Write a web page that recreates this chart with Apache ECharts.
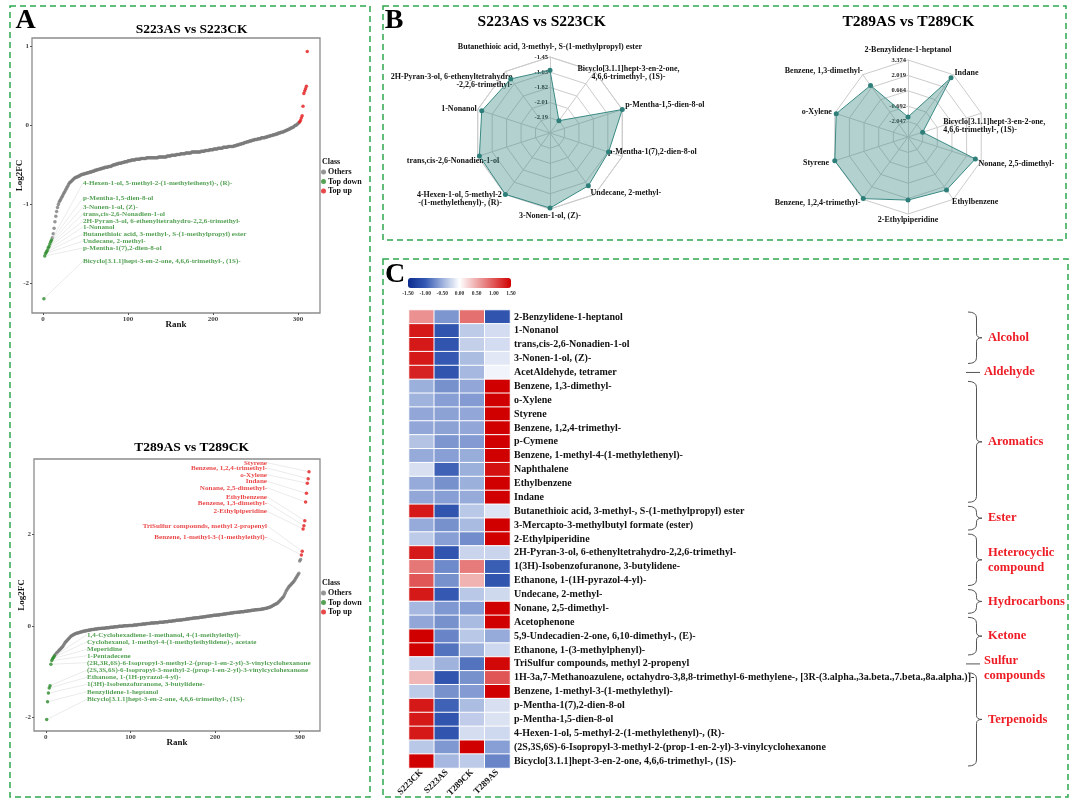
<!DOCTYPE html>
<html><head><meta charset="utf-8">
<script src="https://cdn.jsdelivr.net/npm/echarts@6.0.0/dist/echarts.min.js"></script>
<style>html,body{margin:0;padding:0;background:#fff}#main{width:1080px;height:807px}</style>
</head><body><div id="main"></div>
<script>
// ---------------- DATA ----------------
// Panel A (top): S223AS vs S223CK, ranked Log2FC
const s223DownNames = ['4-Hexen-1-ol, 5-methyl-2-(1-methylethenyl)-, (R)-','p-Mentha-1,5-dien-8-ol','3-Nonen-1-ol, (Z)-','trans,cis-2,6-Nonadien-1-ol','2H-Pyran-3-ol, 6-ethenyltetrahydro-2,2,6-trimethyl-','1-Nonanol','Butanethioic acid, 3-methyl-, S-(1-methylpropyl) ester','Undecane, 2-methyl-','p-Mentha-1(7),2-dien-8-ol','Bicyclo[3.1.1]hept-3-en-2-one, 4,6,6-trimethyl-, (1S)-'];
const s223DownValues = [-1.45,-1.47,-1.50,-1.53,-1.55,-1.58,-1.60,-1.62,-1.65,-2.19];
const s223OthersValues = [
-1.42,-1.37,-1.30,-1.22,-1.15,-1.09,-1.04,-1.00,-0.97,-0.95,
-0.93,-0.91,-0.89,-0.87,-0.85,-0.83,-0.81,-0.79,-0.77,-0.75,
-0.73,-0.72,-0.71,-0.70,-0.69,-0.68,-0.67,-0.66,-0.66,-0.65,
-0.65,-0.64,-0.64,-0.63,-0.63,-0.62,-0.62,-0.62,-0.61,-0.61,
-0.61,-0.60,-0.60,-0.60,-0.59,-0.59,-0.59,-0.58,-0.58,-0.58,
-0.57,-0.57,-0.57,-0.56,-0.56,-0.56,-0.55,-0.55,-0.55,-0.54,
-0.54,-0.54,-0.53,-0.53,-0.53,-0.53,-0.52,-0.52,-0.52,-0.52,
-0.51,-0.51,-0.50,-0.50,-0.50,-0.49,-0.49,-0.49,-0.48,-0.48,
-0.48,-0.48,-0.47,-0.47,-0.47,-0.46,-0.46,-0.46,-0.46,-0.45,
-0.45,-0.45,-0.45,-0.44,-0.44,-0.44,-0.44,-0.44,-0.43,-0.43,
-0.43,-0.43,-0.43,-0.43,-0.42,-0.42,-0.42,-0.42,-0.42,-0.42,
-0.42,-0.41,-0.41,-0.41,-0.41,-0.41,-0.41,-0.41,-0.41,-0.41,
-0.41,-0.41,-0.41,-0.41,-0.41,-0.40,-0.40,-0.40,-0.40,-0.40,
-0.40,-0.40,-0.40,-0.40,-0.40,-0.39,-0.39,-0.39,-0.39,-0.39,
-0.38,-0.38,-0.38,-0.38,-0.38,-0.38,-0.37,-0.37,-0.37,-0.37,
-0.37,-0.36,-0.36,-0.36,-0.36,-0.36,-0.36,-0.35,-0.35,-0.35,
-0.35,-0.35,-0.35,-0.35,-0.34,-0.34,-0.34,-0.34,-0.34,-0.34,
-0.34,-0.34,-0.34,-0.34,-0.34,-0.33,-0.33,-0.33,-0.33,-0.33,
-0.32,-0.32,-0.32,-0.32,-0.32,-0.31,-0.31,-0.31,-0.31,-0.31,
-0.30,-0.30,-0.30,-0.30,-0.30,-0.29,-0.29,-0.29,-0.29,-0.29,
-0.29,-0.28,-0.28,-0.28,-0.28,-0.28,-0.28,-0.27,-0.27,-0.27,
-0.27,-0.27,-0.27,-0.27,-0.26,-0.26,-0.26,-0.25,-0.25,-0.25,
-0.24,-0.24,-0.24,-0.23,-0.23,-0.23,-0.22,-0.22,-0.22,-0.21,
-0.21,-0.21,-0.20,-0.20,-0.20,-0.19,-0.19,-0.19,-0.18,-0.18,
-0.18,-0.18,-0.17,-0.17,-0.17,-0.17,-0.16,-0.16,-0.16,-0.16,
-0.16,-0.15,-0.15,-0.15,-0.14,-0.14,-0.14,-0.13,-0.13,-0.13,
-0.12,-0.12,-0.12,-0.11,-0.11,-0.11,-0.10,-0.10,-0.10,-0.09,
-0.09,-0.09,-0.08,-0.08,-0.07,-0.07,-0.06,-0.06,-0.05,-0.05,
-0.04,-0.04,-0.03,-0.03,-0.02,-0.01,0.00,0.00,0.01,0.02,0.03];
const s223UpValues = [0.04,0.06,0.09,0.12,0.24,0.40,0.43,0.46,0.49,0.93];

// Panel A (bottom): T289AS vs T289CK
const t289DownNames = ['1,4-Cyclohexadiene-1-methanol, 4-(1-methylethyl)-','Cyclohexanol, 1-methyl-4-(1-methylethylidene)-, acetate','Meperidine','1-Pentadecene','(2R,3R,6S)-6-Isopropyl-3-methyl-2-(prop-1-en-2-yl)-3-vinylcyclohexanone','(2S,3S,6S)-6-Isopropyl-3-methyl-2-(prop-1-en-2-yl)-3-vinylcyclohexanone','Ethanone, 1-(1H-pyrazol-4-yl)-','1(3H)-Isobenzofuranone, 3-butylidene-','Benzylidene-1-heptanol','Bicyclo[3.1.1]hept-3-en-2-one, 4,6,6-trimethyl-, (1S)-'];
const t289DownValues = [-0.66,-0.69,-0.72,-0.76,-0.84,-1.31,-1.36,-1.47,-1.66,-2.05];
const t289UpNames = ['Styrene','Benzene, 1,2,4-trimethyl-','o-Xylene','Indane','Nonane, 2,5-dimethyl-','Ethylbenzene','Benzene, 1,3-dimethyl-','2-Ethylpiperidine','TriSulfur compounds, methyl 2-propenyl','Benzene, 1-methyl-3-(1-methylethyl)-'];
const t289UpValues = [3.37,3.22,3.12,2.90,2.71,2.30,2.19,2.12,1.63,1.55];
const t289OthersValues = [
-0.64,-0.61,-0.59,-0.57,-0.55,-0.53,-0.51,-0.49,-0.47,-0.45,
-0.42,-0.39,-0.36,-0.34,-0.32,-0.30,-0.28,-0.26,-0.24,-0.22,
-0.21,-0.20,-0.19,-0.18,-0.17,-0.16,-0.16,-0.15,-0.15,-0.14,
-0.14,-0.13,-0.13,-0.12,-0.12,-0.11,-0.11,-0.10,-0.10,-0.10,
-0.09,-0.09,-0.09,-0.08,-0.08,-0.08,-0.08,-0.07,-0.07,-0.07,
-0.07,-0.06,-0.06,-0.06,-0.06,-0.05,-0.05,-0.05,-0.05,-0.05,
-0.04,-0.04,-0.04,-0.04,-0.04,-0.03,-0.03,-0.03,-0.03,-0.03,
-0.02,-0.02,-0.02,-0.02,-0.02,-0.01,-0.01,-0.01,-0.01,-0.01,
-0.01,0.00,0.00,0.00,0.00,0.00,0.00,0.01,0.01,0.01,
0.01,0.01,0.01,0.02,0.02,0.02,0.02,0.02,0.03,0.03,
0.03,0.03,0.03,0.04,0.04,0.04,0.04,0.04,0.05,0.05,
0.05,0.05,0.05,0.06,0.06,0.06,0.06,0.06,0.07,0.07,
0.07,0.07,0.07,0.08,0.08,0.08,0.08,0.08,0.08,0.09,
0.09,0.09,0.09,0.09,0.10,0.10,0.10,0.10,0.10,0.11,
0.11,0.11,0.11,0.12,0.12,0.12,0.12,0.13,0.13,0.13,
0.13,0.14,0.14,0.14,0.14,0.15,0.15,0.15,0.15,0.16,
0.16,0.16,0.16,0.17,0.17,0.17,0.17,0.18,0.18,0.18,
0.18,0.19,0.19,0.19,0.19,0.20,0.20,0.20,0.20,0.21,
0.21,0.21,0.21,0.22,0.22,0.22,0.22,0.23,0.23,0.23,
0.23,0.24,0.24,0.24,0.24,0.25,0.25,0.25,0.25,0.26,
0.26,0.26,0.26,0.27,0.27,0.27,0.27,0.28,0.28,0.28,
0.28,0.29,0.29,0.29,0.29,0.30,0.30,0.30,0.30,0.31,
0.31,0.31,0.31,0.31,0.32,0.32,0.32,0.32,0.33,0.33,
0.33,0.33,0.34,0.34,0.34,0.34,0.35,0.35,0.35,0.35,
0.36,0.36,0.36,0.36,0.37,0.37,0.37,0.38,0.38,0.38,
0.39,0.39,0.40,0.40,0.41,0.42,0.43,0.44,0.45,0.46,
0.47,0.48,0.49,0.50,0.52,0.54,0.56,0.58,0.60,0.62,
0.64,0.68,0.72,0.76,0.79,0.82,0.85,0.87,0.89,0.91,
0.93,0.95,0.97,1.00,1.03,1.06,1.09,1.12,1.15,1.42,1.45];

// Panel B radars (clockwise from top)
const radarS223Names = ['Butanethioic acid, 3-methyl-, S-(1-methylpropyl) ester','Bicyclo[3.1.1]hept-3-en-2-one,\n4,6,6-trimethyl-, (1S)-','p-Mentha-1,5-dien-8-ol','p-Mentha-1(7),2-dien-8-ol','Undecane, 2-methyl-','3-Nonen-1-ol, (Z)-','4-Hexen-1-ol, 5-methyl-2\n-(1-methylethenyl)-, (R)-','trans,cis-2,6-Nonadien-1-ol','1-Nonanol','2H-Pyran-3-ol, 6-ethenyltetrahydro\n-2,2,6-trimethyl-'];
const radarS223Values = [-1.61,-2.1913,-1.4484,-1.625,-1.58,-1.46,-1.45,-1.47,-1.50,-1.56];
const radarS223Range = [-2.3770,-1.4484];
const radarT289Names = ['2-Benzylidene-1-heptanol','Indane','Bicyclo[3.1.1]hept-3-en-2-one,\n4,6,6-trimethyl-, (1S)-','Nonane, 2,5-dimethyl-','Ethylbenzene','2-Ethylpiperidine','Benzene, 1,2,4-trimethyl-','Styrene','o-Xylene','Benzene, 1,3-dimethyl-'];
const radarT289Values = [-1.64,3.04,-2.0468,2.83,2.36,2.15,3.30,3.3742,3.24,2.21];
const radarT289Range = [-3.40205,3.3742];

// Panel C heatmap (row z-scores)
const heatCols = ['S223CK','S223AS','T289CK','T289AS'];
const heatRows = ['2-Benzylidene-1-heptanol','1-Nonanol','trans,cis-2,6-Nonadien-1-ol','3-Nonen-1-ol, (Z)-','AcetAldehyde, tetramer','Benzene, 1,3-dimethyl-','o-Xylene','Styrene','Benzene, 1,2,4-trimethyl-','p-Cymene','Benzene, 1-methyl-4-(1-methylethenyl)-','Naphthalene','Ethylbenzene','Indane','Butanethioic acid, 3-methyl-, S-(1-methylpropyl) ester','3-Mercapto-3-methylbutyl formate (ester)','2-Ethylpiperidine','2H-Pyran-3-ol, 6-ethenyltetrahydro-2,2,6-trimethyl-','1(3H)-Isobenzofuranone, 3-butylidene-','Ethanone, 1-(1H-pyrazol-4-yl)-','Undecane, 2-methyl-','Nonane, 2,5-dimethyl-','Acetophenone','5,9-Undecadien-2-one, 6,10-dimethyl-, (E)-','Ethanone, 1-(3-methylphenyl)-','TriSulfur compounds, methyl 2-propenyl','1H-3a,7-Methanoazulene, octahydro-3,8,8-trimethyl-6-methylene-, [3R-(3.alpha.,3a.beta.,7.beta.,8a.alpha.)]-','Benzene, 1-methyl-3-(1-methylethyl)-','p-Mentha-1(7),2-dien-8-ol','p-Mentha-1,5-dien-8-ol','4-Hexen-1-ol, 5-methyl-2-(1-methylethenyl)-, (R)-','(2S,3S,6S)-6-Isopropyl-3-methyl-2-(prop-1-en-2-yl)-3-vinylcyclohexanone','Bicyclo[3.1.1]hept-3-en-2-one, 4,6,6-trimethyl-, (1S)-'];
const heatValues = [
[0.65,-0.65,0.84,-1.05],[1.35,-1.05,-0.33,-0.22],[1.35,-1.05,-0.30,-0.22],[1.35,-1.00,-0.42,-0.15],[1.30,-1.05,-0.45,-0.07],
[-0.50,-0.68,-0.55,1.50],[-0.48,-0.60,-0.62,1.50],[-0.55,-0.58,-0.55,1.50],[-0.55,-0.58,-0.55,1.50],[-0.38,-0.65,-0.62,1.50],
[-0.53,-0.60,-0.52,1.50],[-0.20,-0.95,-0.50,1.40],[-0.53,-0.68,-0.50,1.50],[-0.55,-0.60,-0.53,1.50],[1.35,-1.05,-0.35,-0.17],
[-0.53,-0.68,-0.43,1.50],[-0.33,-0.60,-0.70,1.50],[1.35,-1.05,-0.27,-0.27],[0.80,-0.72,0.78,-0.97],[1.00,-0.68,0.45,-1.05],
[1.35,-1.00,-0.35,-0.24],[-0.45,-0.64,-0.60,1.50],[-0.55,-0.68,-0.43,1.50],[1.50,-0.75,-0.35,-0.53],[1.50,-0.85,-0.48,-0.25],
[-0.27,-0.48,-0.85,1.45],[0.43,-1.05,-0.68,1.00],[-0.33,-0.68,-0.62,1.50],[1.35,-0.95,-0.42,-0.20],[1.35,-1.05,-0.32,-0.18],
[1.35,-1.05,-0.21,-0.25],[-0.35,-0.64,1.50,-0.60],[1.50,-0.45,-0.33,-0.75]];
const groupLabels = ['Alcohol','Aldehyde','Aromatics','Ester','Heterocyclic\ncompound','Hydrocarbons','Ketone','Sulfur\ncompounds','Terpenoids'];
const groupStart = [0,4,5,14,16,20,22,25,26];
const groupEnd   = [3,4,13,15,19,21,24,25,32];

// ---------------- LAYOUT / STYLE ----------------
const F = '"Liberation Serif","Times New Roman",serif';
const C_GRAY = '#7b7b7b', C_GREEN = '#2b8a2b', C_RED = '#e41a1c';
const LAYOUT = {
  s223DownX: 83, s223DownY: [183,198,207,214,221,227,234,241,248,261],
  t289DownX: 87, t289DownY: [634.7,641.7,649.3,655.7,662.7,670,677.3,684.3,691.7,699.3],
  t289UpX: 267, t289UpY: [462.7,468,474.7,481.3,487.7,496.7,502.7,511.3,525.7,537.3],
  groupLabelDy: [0,-1,0,0,0,0,0,4,0],
  radarS223Name: [
    {gap: 6, align: 'center', verticalAlign: 'bottom'},
    {gap: -2, align: 'center', verticalAlign: 'middle', padding: [0,0,0,70]},
    {gap: 3, align: 'left', verticalAlign: 'bottom'},
    {gap: -15, align: 'left', verticalAlign: 'middle'},
    {gap: -7, align: 'left', verticalAlign: 'top'},
    {gap: 3, align: 'center', verticalAlign: 'top'},
    {gap: 6, align: 'right', verticalAlign: 'middle'},
    {gap: 26, align: 'center', verticalAlign: 'bottom'},
    {gap: 1, align: 'right', verticalAlign: 'middle'},
    {gap: -12, align: 'right', verticalAlign: 'middle'}],
  radarT289Name: [
    {gap: 6, align: 'center', verticalAlign: 'bottom'},
    {gap: 2, align: 'left', verticalAlign: 'middle'},
    {gap: -40, align: 'left', verticalAlign: 'middle'},
    {gap: -3, align: 'left', verticalAlign: 'top'},
    {gap: -2, align: 'left', verticalAlign: 'top'},
    {gap: 2, align: 'center', verticalAlign: 'top'},
    {gap: 4, align: 'right', verticalAlign: 'middle'},
    {gap: 6, align: 'right', verticalAlign: 'middle'},
    {gap: 3, align: 'right', verticalAlign: 'middle'},
    {gap: 0, align: 'right', verticalAlign: 'bottom'}]
};

const chart = echarts.init(document.getElementById('main'));

function fixedLabel(x, ys, align) {
  return p => ({x: x, y: ys[p.dataIndex], align: align, verticalAlign: 'middle'});
}
function labelCfg(names, color) {
  return {show: true, formatter: p => names[p.dataIndex], fontSize: 7.1, fontWeight: 'bold', fontFamily: F, color: color};
}
const labelLineCfg = {show: true, lineStyle: {color: '#d6d6d6', width: 0.5}};

function valueX(gi, min, max) {
  return {type: 'value', gridIndex: gi, min: min, max: max, splitLine: {show: false}, axisLine: {show: false, onZero: false},
    axisTick: {show: true, length: 2, customValues: [0,100,200,300], lineStyle: {color: '#555'}},
    axisLabel: {customValues: [0,100,200,300], fontSize: 7, margin: 3, color: '#444', fontWeight: 'bold', fontFamily: F},
    name: 'Rank', nameLocation: 'middle', nameGap: 7, nameMoveOverlap: false,
    nameTextStyle: {fontSize: 9, fontWeight: 'bold', fontFamily: F, color: '#111'}};
}
function valueY(gi, min, max, ticks) {
  return {type: 'value', gridIndex: gi, min: min, max: max, splitLine: {show: false}, axisLine: {show: false, onZero: false},
    axisTick: {show: true, length: 2, customValues: ticks, lineStyle: {color: '#555'}},
    axisLabel: {customValues: ticks, fontSize: 7, margin: 3, color: '#444', fontWeight: 'bold', fontFamily: F},
    name: 'Log2FC', nameLocation: 'middle', nameGap: 8, nameRotate: 90, nameMoveOverlap: false,
    nameTextStyle: {fontSize: 9, fontWeight: 'bold', fontFamily: F, color: '#111'}};
}
function ccw(arr) { return [arr[0]].concat(arr.slice(1).reverse()); }
function radarIndicators(names, range, dec, styles) {
  const ind = names.map((n, i) => {
    const st = styles[i];
    const ts = {align: st.align, verticalAlign: st.verticalAlign};
    if (st.padding) ts.padding = st.padding;
    const o = {name: n, min: range[0], max: range[1], nameGap: st.gap, nameTextStyle: ts};
    if (i === 0) o.axisLabel = {show: true, fontSize: 6.5, fontWeight: 'bold', color: '#222', fontFamily: F, margin: 2,
      formatter: (v, idx) => idx === 0 ? '' : Number(v).toFixed(dec)};
    return o;
  });
  return ccw(ind);
}
function radarCfg(center, radius, names, range, dec, styles) {
  return {center: center, radius: radius, startAngle: 90, splitNumber: 5, shape: 'polygon',
    indicator: radarIndicators(names, range, dec, styles),
    axisName: {color: '#111', fontSize: 8, fontWeight: 'bold', fontFamily: F},
    axisNameGap: 3,
    splitLine: {lineStyle: {color: '#cccccc', width: 1}}, splitArea: {show: false},
    axisLine: {lineStyle: {color: '#cccccc', width: 1}}, axisTick: {show: false}, axisLabel: {show: false}};
}
function legendCfg(top) {
  return {left: 321, top: top, orient: 'vertical', data: ['Others','Top down','Top up'], icon: 'circle',
    itemWidth: 5, itemHeight: 5, itemGap: 1.5, padding: 0, selectedMode: false,
    textStyle: {fontSize: 8, fontWeight: 'bold', fontFamily: F, color: '#111', padding: [0,0,0,-3]}};
}
function txt(x, y, text, size, color, align) {
  return {type: 'text', x: x, y: y, silent: true,
    style: {text: text, fill: color || '#000', font: 'bold ' + size + 'px ' + F, align: align || 'center', textAlign: align || 'center', verticalAlign: 'middle', textVerticalAlign: 'middle'}};
}
function frame(x, y, w, h) {
  return {type: 'rect', shape: {x: x, y: y, width: w, height: h}, silent: true, z: -10,
    style: {fill: 'none', stroke: '#2fa84f', lineWidth: 1.5, lineDash: [6, 4]}};
}

const heatData = [];
heatValues.forEach((row, r) => row.forEach((v, c) => heatData.push([c, r, v])));

const option = {
  animation: false,
  backgroundColor: '#fff',
  graphic: [
    frame(10, 6, 360, 791), frame(383, 6, 683, 234), frame(383, 259, 685, 538),
    txt(25.5, 21, 'A', 28), txt(394, 21, 'B', 28), txt(395, 275, 'C', 28),
    txt(191.7, 30, 'S223AS vs S223CK', 13.5), txt(191.7, 447.3, 'T289AS vs T289CK', 13.5),
    txt(541.7, 21.7, 'S223AS vs S223CK', 15.5), txt(908.3, 21.7, 'T289AS vs T289CK', 15.5),
    txt(322, 162, 'Class', 8, '#111', 'left'), txt(322, 583, 'Class', 8, '#111', 'left')
  ],
  legend: [legendCfg(168), legendCfg(589)],
  grid: [
    {left: 32, top: 38, width: 288, height: 275, show: true, borderColor: '#8c8c8c', borderWidth: 1.3, backgroundColor: '#fff'},
    {left: 34, top: 459, width: 286, height: 272, show: true, borderColor: '#8c8c8c', borderWidth: 1.3, backgroundColor: '#fff'},
    {left: 409, top: 310, width: 101, height: 458},
    {left: 408, top: 278, width: 103, height: 10}
  ],
  xAxis: [
    valueX(0, -13, 326),
    valueX(1, -14, 324),
    {type: 'category', gridIndex: 2, data: heatCols, position: 'bottom', axisLine: {show: false}, axisTick: {show: false},
      axisLabel: {rotate: 45, fontSize: 9, fontWeight: 'bold', fontFamily: F, color: '#111', margin: 3, interval: 0}},
    {type: 'value', gridIndex: 3, min: -1.5, max: 1.5, interval: 0.5, axisLine: {show: false}, axisTick: {show: false}, splitLine: {show: false},
      axisLabel: {fontSize: 5.5, fontWeight: 'bold', fontFamily: F, color: '#333', margin: 3, formatter: v => v.toFixed(2)}}
  ],
  yAxis: [
    valueY(0, -2.37, 1.1, [-2,-1,0,1]),
    valueY(1, -2.3, 3.65, [-2,0,2]),
    {type: 'category', gridIndex: 2, data: heatRows, inverse: true, position: 'right', axisLine: {show: false}, axisTick: {show: false},
      axisLabel: {fontSize: 10, fontWeight: 'bold', fontFamily: F, color: '#111', margin: 4, interval: 0}},
    {type: 'value', gridIndex: 3, show: false, min: 0, max: 1}
  ],
  radar: [
    radarCfg([550, 133], 76, radarS223Names, radarS223Range, 2, LAYOUT.radarS223Name),
    radarCfg([908, 137], 77, radarT289Names, radarT289Range, 3, LAYOUT.radarT289Name)
  ],
  visualMap: {type: 'continuous', seriesIndex: 8, min: -1.5, max: 1.5, orient: 'horizontal', left: 408, top: 278,
    itemWidth: 10, itemHeight: 103, padding: 0, calculable: false, hoverLink: false,
    inRange: {color: ['#0b2a8f','#3559b3','#9cb0dc','#ffffff','#efaaaa','#e05555','#d00000']}},
  series: [
    {type: 'scatter', name: 'Others', xAxisIndex: 0, yAxisIndex: 0, symbolSize: 3.5, silent: true,
      itemStyle: {color: C_GRAY}, data: s223OthersValues.map((v, i) => [i + 11, v])},
    {type: 'scatter', name: 'Top down', xAxisIndex: 0, yAxisIndex: 0, symbolSize: 3.5, silent: true, z: 3,
      itemStyle: {color: C_GREEN}, data: s223DownValues.map((v, i) => [10 - i, v]),
      label: labelCfg(s223DownNames, C_GREEN), labelLine: labelLineCfg,
      labelLayout: fixedLabel(LAYOUT.s223DownX, LAYOUT.s223DownY, 'left')},
    {type: 'scatter', name: 'Top up', xAxisIndex: 0, yAxisIndex: 0, symbolSize: 3.5, silent: true,
      itemStyle: {color: C_RED}, data: s223UpValues.map((v, i) => [i + 302, v])},
    {type: 'scatter', name: 'Others', xAxisIndex: 1, yAxisIndex: 1, symbolSize: 3.5, silent: true,
      itemStyle: {color: C_GRAY}, data: t289OthersValues.map((v, i) => [i + 11, v])},
    {type: 'scatter', name: 'Top down', xAxisIndex: 1, yAxisIndex: 1, symbolSize: 3.5, silent: true, z: 3,
      itemStyle: {color: C_GREEN}, data: t289DownValues.map((v, i) => [10 - i, v]),
      label: labelCfg(t289DownNames, C_GREEN), labelLine: labelLineCfg,
      labelLayout: fixedLabel(LAYOUT.t289DownX, LAYOUT.t289DownY, 'left')},
    {type: 'scatter', name: 'Top up', xAxisIndex: 1, yAxisIndex: 1, symbolSize: 3.5, silent: true, z: 3,
      itemStyle: {color: C_RED}, data: t289UpValues.map((v, i) => [311 - i, v]),
      label: labelCfg(t289UpNames, C_RED), labelLine: labelLineCfg,
      labelLayout: fixedLabel(LAYOUT.t289UpX, LAYOUT.t289UpY, 'right')},
    {type: 'radar', radarIndex: 0, silent: true, symbol: 'circle', symbolSize: 5,
      itemStyle: {color: '#2e7f7a'}, lineStyle: {color: '#3a8a84', width: 1},
      areaStyle: {color: 'rgba(62,140,133,0.56)'}, data: [{value: ccw(radarS223Values)}]},
    {type: 'radar', radarIndex: 1, silent: true, symbol: 'circle', symbolSize: 5,
      itemStyle: {color: '#2e7f7a'}, lineStyle: {color: '#3a8a84', width: 1},
      areaStyle: {color: 'rgba(62,140,133,0.56)'}, data: [{value: ccw(radarT289Values)}]},
    {type: 'heatmap', xAxisIndex: 2, yAxisIndex: 2, data: heatData, silent: true,
      itemStyle: {borderColor: '#ffffff', borderWidth: 1}},
    {type: 'custom', xAxisIndex: 2, yAxisIndex: 2, silent: true, clip: false,
      encode: {x: 0, y: 1},
      data: groupStart.map((s, i) => [0, s, groupEnd[i]]),
      renderItem: function (params, api) {
        const i = params.dataIndex;
        const s = api.value(1), e = api.value(2);
        const h = api.size([0, 1])[1];
        const gr = params.coordSys.x + params.coordSys.width;
        const x0 = gr + 458, x1 = x0 + 8.5, xt = x0 + 14;
        const yTop = api.coord([0, s])[1] - h / 2 + 2;
        const yBot = api.coord([0, e])[1] + h / 2 - 2;
        const ym = (yTop + yBot) / 2;
        let path, tx;
        if (s === e) {
          path = 'M' + (x0 - 2) + ',' + ym + ' L' + (x0 + 12) + ',' + ym;
          tx = x0 + 16;
        } else {
          const r = 6;
          path = 'M' + x0 + ',' + yTop + ' Q' + x1 + ',' + yTop + ' ' + x1 + ',' + (yTop + r) +
            ' L' + x1 + ',' + (ym - 4) + ' Q' + x1 + ',' + ym + ' ' + xt + ',' + ym +
            ' Q' + x1 + ',' + ym + ' ' + x1 + ',' + (ym + 4) +
            ' L' + x1 + ',' + (yBot - r) + ' Q' + x1 + ',' + yBot + ' ' + x0 + ',' + yBot;
          tx = x0 + 20;
        }
        return {type: 'group', children: [
          {type: 'path', shape: {pathData: path}, style: {fill: 'none', stroke: '#555', lineWidth: 1}},
          {type: 'text', x: tx, y: ym + LAYOUT.groupLabelDy[i], style: {text: groupLabels[i], fill: '#ee1c25', fontSize: 12.5, fontWeight: 'bold', fontFamily: F,
            align: 'left', verticalAlign: 'middle', lineHeight: 15}}
        ]};
      }}
  ]
};
chart.setOption(option);
</script></body></html>
